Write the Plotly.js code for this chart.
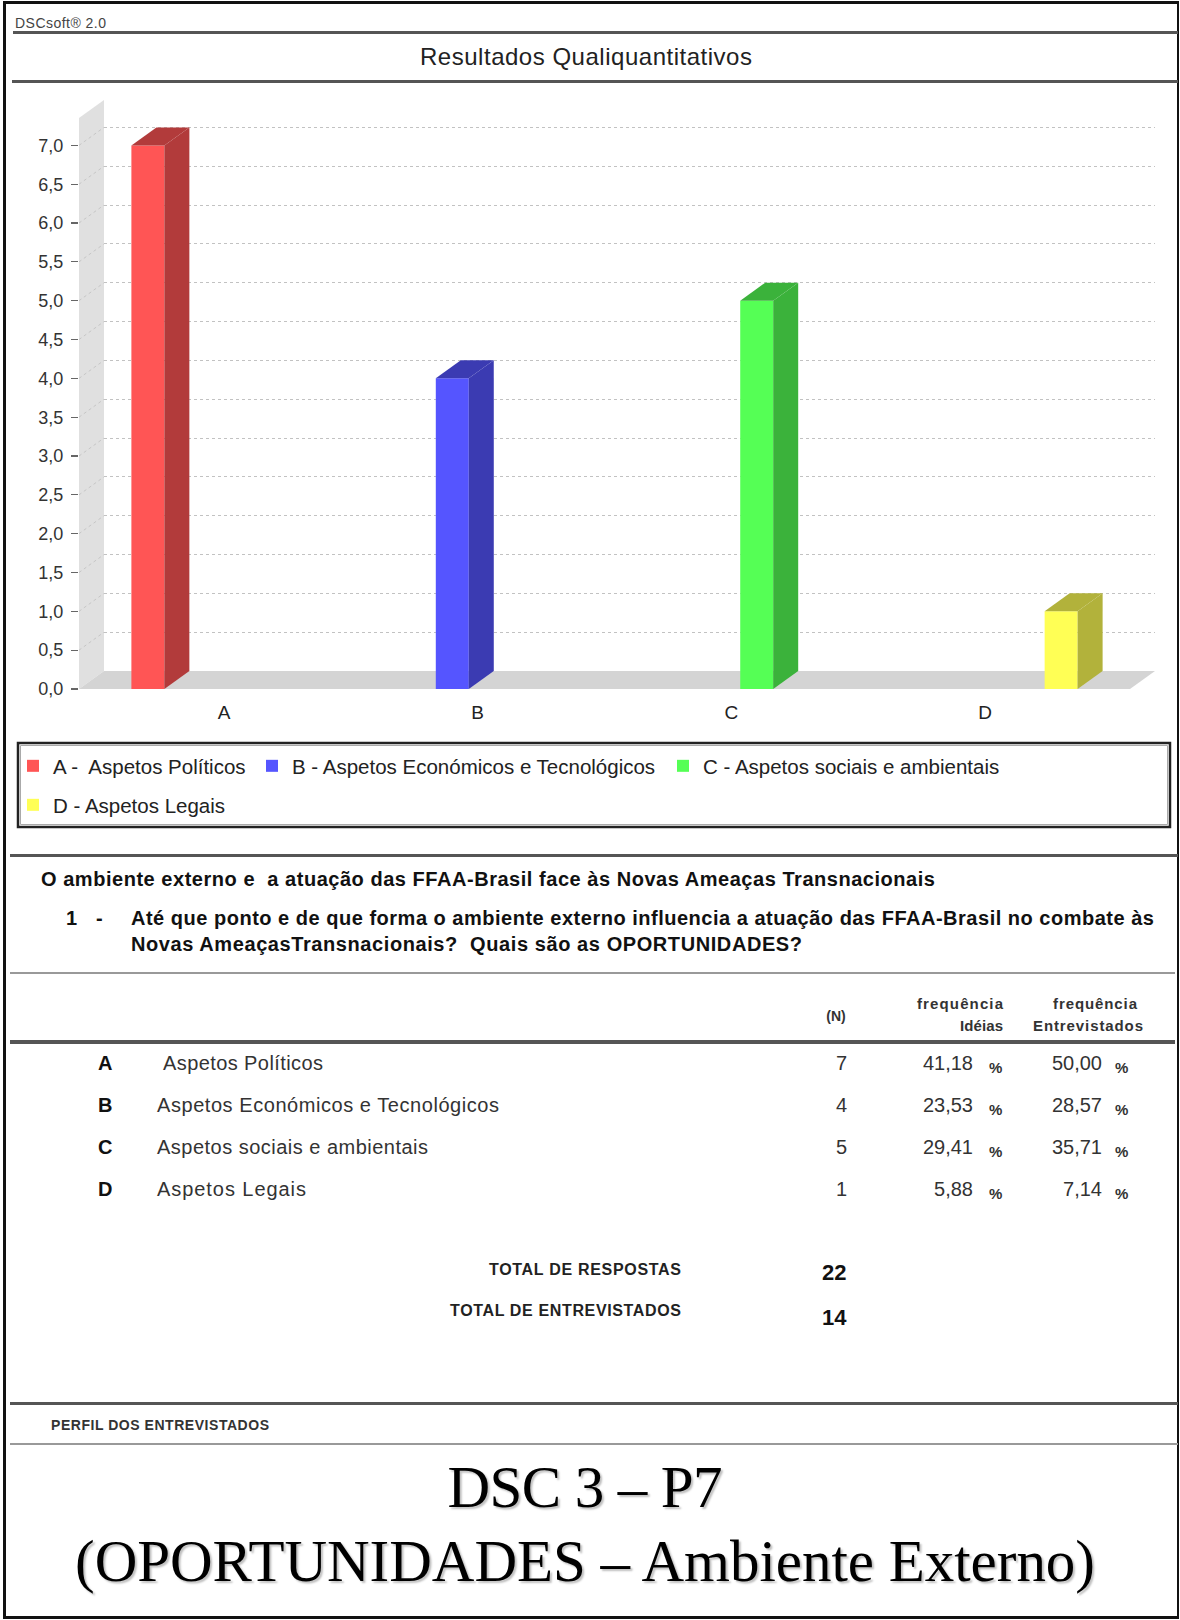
<!DOCTYPE html>
<html><head><meta charset="utf-8">
<script src="https://cdn.plot.ly/plotly-3.0.1.min.js"></script>
<style>
html,body{margin:0;padding:0;background:#fff;}
#page{position:relative;width:1180px;height:1620px;overflow:hidden;background:#fff;font-family:"Liberation Sans",Arial,sans-serif;color:#222;}
.t{position:absolute;white-space:pre;line-height:1;}
.hl{position:absolute;}
#chart{position:absolute;left:0;top:0;width:1180px;height:860px;}
#frame{position:absolute;left:3px;top:1px;width:1176px;height:1618px;box-sizing:border-box;border:3px solid #111;border-right-width:2px;pointer-events:none;}
</style></head>
<body><div id="page"><div id="chart"></div><div id="frame"></div></div>
<script>
// ---------------- data ----------------
const categories = ['A', 'B', 'C', 'D'];
const seriesNames = ['A -  Aspetos Políticos', 'B - Aspetos Económicos e Tecnológicos', 'C - Aspetos sociais e ambientais', 'D - Aspetos Legais'];
const values = [7, 4, 5, 1];
const yTickVals = [0, 0.5, 1, 1.5, 2, 2.5, 3, 3.5, 4, 4.5, 5, 5.5, 6, 6.5, 7];
const rowNames = ['Aspetos Políticos', 'Aspetos Económicos e Tecnológicos', 'Aspetos sociais e ambientais', 'Aspetos Legais'];
const countN = [7, 4, 5, 1];
const freqIdeias = ['41,18', '23,53', '29,41', '5,88'];
const freqEntrevistados = ['50,00', '28,57', '35,71', '7,14'];
const totalRespostas = 22;
const totalEntrevistados = 14;

// ---------------- chart geometry / style ----------------
const W = 1180, H = 860;
const FX0 = 79, FX1 = 1130, FY0 = 689, FY1 = 118;   // front plane (px)
const DXP = 25, DYP = 18;                          // 3D depth (px)
const XMIN = -0.5715, XMAX = 3.5715;
const PXY = 77.66;
const YTOP = (FY0 - FY1) / PXY;
const DXU = DXP * (XMAX - XMIN) / (FX1 - FX0);
const DYU = DYP / PXY;
const px = x => x / W, py = y => 1 - y / H;
const poly = pts => 'M ' + pts.map(p => px(p[0]) + ',' + py(p[1])).join(' L ') + ' Z';

const frontCol = ['#ff5555', '#5555ff', '#55ff55', '#ffff55'];
const darkCol = ['#b23b3b', '#3b3bb2', '#3bb23b', '#b2b23b'];
const GROUPW = 0.8, BARFRAC = 0.65;
const SLOT = GROUPW / categories.length;
const HW = SLOT * BARFRAC / 2;
const FONT = '"Liberation Sans", Arial, sans-serif';

const traces = [];
// dummy on back plane so the subplot exists
traces.push({type: 'scatter', mode: 'markers', x: [XMIN], y: [0], xaxis: 'x', yaxis: 'y',
  marker: {opacity: 0}, hoverinfo: 'skip', showlegend: false});
// diagonal grid lines on the side wall
const wx = [], wy = [];
yTickVals.forEach(v => { if (v === 0) return; wx.push(XMIN, XMIN + DXU, null); wy.push(v, v + DYU, null); });
traces.push({type: 'scatter', mode: 'lines', x: wx, y: wy, xaxis: 'x2', yaxis: 'y2',
  line: {color: '#c6c6c6', width: 1, dash: '3px,3px'}, hoverinfo: 'skip', showlegend: false});
// slot of each series inside its category (series i sits in slot i)
const slotShift = categories.map((c, i) => (i - (categories.length - 1) / 2) * SLOT);
// front faces (bars)
categories.forEach((c, i) => {
  traces.push({type: 'bar', x: [i], y: [values[i]], name: seriesNames[i], xaxis: 'x2', yaxis: 'y2',
    width: [2 * HW], offset: [slotShift[i] - HW],
    marker: {color: frontCol[i], line: {width: 0}}, legend: i ? 'legend' + (i + 1) : 'legend',
    hoverinfo: 'skip'});
});
// side and top faces
categories.forEach((c, i) => {
  const xc = i + slotShift[i], v = values[i];
  const xl = xc - HW, xr = xc + HW;
  traces.push({type: 'scatter', mode: 'lines', fill: 'toself', xaxis: 'x2', yaxis: 'y2',
    x: [xr, xr + DXU, xr + DXU, xr, xr], y: [0, DYU, v + DYU, v, 0],
    fillcolor: darkCol[i], line: {width: 0, color: darkCol[i]}, hoverinfo: 'skip', showlegend: false});
  traces.push({type: 'scatter', mode: 'lines', fill: 'toself', xaxis: 'x2', yaxis: 'y2',
    x: [xl, xr, xr + DXU, xl + DXU, xl], y: [v, v, v + DYU, v + DYU, v],
    fillcolor: darkCol[i], line: {width: 0, color: darkCol[i]}, hoverinfo: 'skip', showlegend: false});
});

const legFont = {family: FONT, size: 20.5, color: '#222'};
const legBase = {orientation: 'h', xanchor: 'left', yanchor: 'middle', font: legFont,
  bgcolor: 'rgba(0,0,0,0)', borderwidth: 0, itemwidth: 30};

const layout = {
  width: W, height: H,
  margin: {l: 0, r: 0, t: 0, b: 0},
  paper_bgcolor: 'rgba(0,0,0,0)', plot_bgcolor: 'rgba(0,0,0,0)',
  separators: ',.',
  barmode: 'overlay',
  font: {family: FONT, color: '#333'},
  xaxis: {domain: [px(FX0 + DXP), px(FX1 + DXP)], range: [XMIN, XMAX], anchor: 'y',
    showgrid: false, zeroline: false, showline: false, showticklabels: false, ticks: ''},
  yaxis: {domain: [py(FY0 - DYP), py(FY1 - DYP)], range: [0, YTOP], anchor: 'x',
    tickvals: yTickVals.slice(1), showgrid: true, gridcolor: '#c2c2c2', griddash: '3px,3px', gridwidth: 1,
    zeroline: false, showline: false, showticklabels: false, ticks: ''},
  xaxis2: {domain: [px(FX0), px(FX1)], range: [XMIN, XMAX], anchor: 'y2',
    tickvals: categories.map((c, i) => i), ticktext: categories,
    showgrid: false, zeroline: false, showline: false, ticks: '',
    tickfont: {family: FONT, size: 19, color: '#222'}, ticklabelstandoff: 10},
  yaxis2: {domain: [py(FY0), py(FY1)], range: [0, YTOP], anchor: 'x2',
    tickvals: yTickVals, tickformat: '.1f',
    showgrid: false, zeroline: false, showline: false,
    ticks: 'outside', ticklen: 7, tickwidth: 1.2, tickcolor: '#666',
    tickfont: {family: FONT, size: 18, color: '#333'}, ticklabelstandoff: 4},
  legend: Object.assign({}, legBase, {x: px(13), y: py(766)}),
  legend2: Object.assign({}, legBase, {x: px(252), y: py(766)}),
  legend3: Object.assign({}, legBase, {x: px(663), y: py(766)}),
  legend4: Object.assign({}, legBase, {x: px(13), y: py(805)}),
  shapes: [
    {type: 'path', xref: 'paper', yref: 'paper', layer: 'below',
      path: poly([[FX0, FY0], [FX0, FY1], [FX0 + DXP, FY1 - DYP], [FX0 + DXP, FY0 - DYP]]),
      fillcolor: '#e0e0e0', line: {width: 0}},
    {type: 'path', xref: 'paper', yref: 'paper', layer: 'below',
      path: poly([[FX0, FY0], [FX0 + DXP, FY0 - DYP], [FX1 + DXP, FY0 - DYP], [FX1, FY0]]),
      fillcolor: '#d4d4d4', line: {width: 0}},
    {type: 'rect', xref: 'paper', yref: 'paper', layer: 'above',
      x0: px(18), x1: px(1170), y0: py(743), y1: py(827),
      line: {color: '#222', width: 2.5}, fillcolor: 'rgba(0,0,0,0)'},
    {type: 'rect', xref: 'paper', yref: 'paper', layer: 'above',
      x0: px(20.5), x1: px(1167.5), y0: py(745.5), y1: py(824.5),
      line: {color: '#aaa', width: 1}, fillcolor: 'rgba(0,0,0,0)'}
  ]
};

Plotly.newPlot('chart', traces, layout, {staticPlot: true, displayModeBar: false});

// ---------------- page text and rules ----------------
const page = document.getElementById('page');
function txt(s, x, y, o) {
  o = o || {};
  const e = document.createElement('div');
  e.className = 't';
  e.textContent = s;
  e.style.fontSize = (o.size || 16) + 'px';
  if (o.bold) e.style.fontWeight = 'bold';
  if (o.family) e.style.fontFamily = o.family;
  if (o.shadow) e.style.textShadow = o.shadow;
  e.style.color = o.color || '#222';
  e.style.left = '0px'; e.style.top = '0px';
  page.appendChild(e);
  if (o.w) {
    const nat = e.getBoundingClientRect().width;
    const n = Math.max(1, [...s].length - 1);
    e.style.letterSpacing = ((o.w - nat) / n) + 'px';
  }
  const r = e.getBoundingClientRect();
  let w = r.width;
  if (o.w) w = o.w;
  const align = o.align || 'left';
  const left = align === 'left' ? x : (align === 'center' ? x - w / 2 : x - w);
  e.style.left = left + 'px';
  e.style.top = (y - r.height / 2) + 'px';
  return e;
}
function rule(x, y, w, h, c) {
  const d = document.createElement('div');
  d.className = 'hl';
  d.style.left = x + 'px'; d.style.top = y + 'px';
  d.style.width = w + 'px'; d.style.height = h + 'px';
  d.style.background = c;
  page.appendChild(d);
}

rule(13, 31, 1165, 3, '#555');
rule(12, 80, 1166, 3, '#555');
rule(10, 854, 1168, 3, '#555');
rule(10, 972, 1165, 1.5, '#999');
rule(10, 1040, 1165, 3.5, '#555');
rule(10, 1402, 1168, 3, '#555');
rule(10, 1443, 1168, 2, '#999');

txt('DSCsoft® 2.0', 15, 23, {size: 14, w: 91, color: '#444'});
txt('Resultados Qualiquantitativos', 586, 57, {size: 24, w: 332, align: 'center', color: '#222'});

txt('O ambiente externo e  a atuação das FFAA-Brasil face às Novas Ameaças Transnacionais', 41, 879, {size: 20, bold: true, w: 894, color: '#111'});
txt('1', 66, 918, {size: 20, bold: true, color: '#111'});
txt('-', 96, 918, {size: 20, bold: true, color: '#111'});
txt('Até que ponto e de que forma o ambiente externo influencia a atuação das FFAA-Brasil no combate às', 131, 918, {size: 20, bold: true, w: 1023, color: '#111'});
txt('Novas AmeaçasTransnacionais?  Quais são as OPORTUNIDADES?', 131, 944, {size: 20, bold: true, w: 671, color: '#111'});

txt('(N)', 836, 1016, {size: 14, bold: true, align: 'center', color: '#333'});
txt('frequência', 1003, 1003, {size: 15, bold: true, w: 86, align: 'right', color: '#333'});
txt('Idéias', 1003, 1025, {size: 15, bold: true, w: 43, align: 'right', color: '#333'});
txt('frequência', 1137, 1003, {size: 15, bold: true, w: 84, align: 'right', color: '#333'});
txt('Entrevistados', 1143, 1025, {size: 15, bold: true, w: 110, align: 'right', color: '#333'});

const rowY = [1063, 1105, 1147, 1189];
const nameW = [160, 342, 271, 149];
categories.forEach((c, i) => {
  txt(c, 98, rowY[i], {size: 20, bold: true, color: '#111'});
  txt(rowNames[i], i === 0 ? 163 : 157, rowY[i], {size: 20, w: nameW[i], color: '#333'});
  txt(String(countN[i]), 847, rowY[i], {size: 20, align: 'right', color: '#333'});
  txt(freqIdeias[i], 973, rowY[i], {size: 20, align: 'right', color: '#333'});
  txt('%', 989, rowY[i] + 4, {size: 15, bold: true, color: '#333'});
  txt(freqEntrevistados[i], 1102, rowY[i], {size: 20, align: 'right', color: '#333'});
  txt('%', 1115, rowY[i] + 4, {size: 15, bold: true, color: '#333'});
});

txt('TOTAL DE RESPOSTAS', 681, 1270, {size: 16, bold: true, w: 192, align: 'right', color: '#222'});
txt('TOTAL DE ENTREVISTADOS', 681, 1311, {size: 16, bold: true, w: 231, align: 'right', color: '#222'});
txt(String(totalRespostas), 822, 1273, {size: 22, bold: true, color: '#111'});
txt(String(totalEntrevistados), 822, 1318, {size: 22, bold: true, color: '#111'});

txt('PERFIL DOS ENTREVISTADOS', 51, 1425, {size: 14, bold: true, w: 218, color: '#333'});

const serif = '"Liberation Serif", "Times New Roman", serif';
const shadow = '2px 2px 2px rgba(0,0,0,0.25)';
txt('DSC 3 – P7', 585, 1487, {size: 59, family: serif, w: 275, align: 'center', color: '#000', shadow: shadow});
txt('(OPORTUNIDADES – Ambiente Externo)', 585, 1561, {size: 59, family: serif, w: 1020, align: 'center', color: '#000', shadow: shadow});
</script>
</body></html>
